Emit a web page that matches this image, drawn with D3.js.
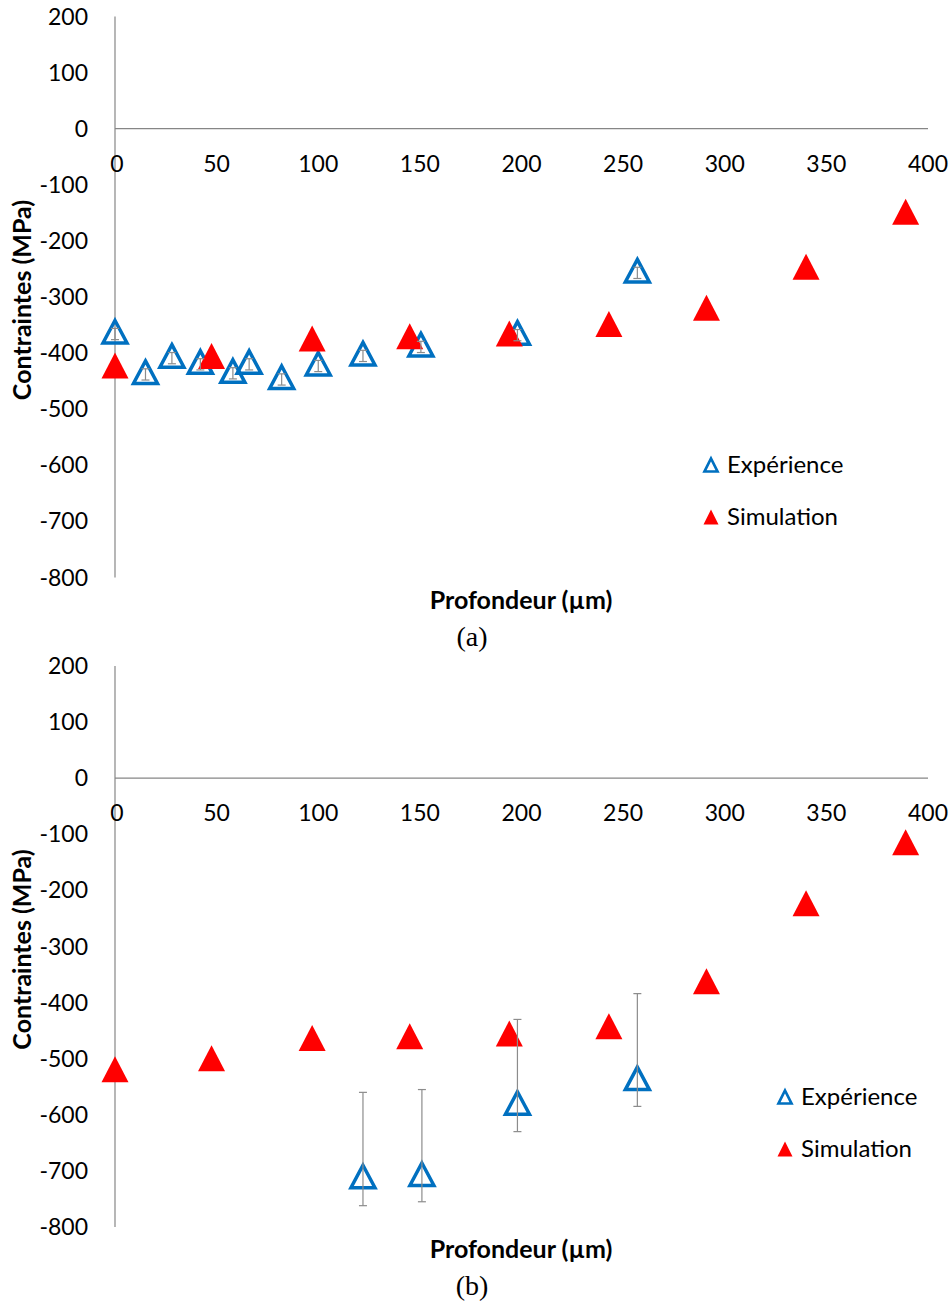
<!DOCTYPE html>
<html><head><meta charset="utf-8">
<script src="https://cdn.jsdelivr.net/npm/d3@7"></script>
<style>body{margin:0;background:#fff}svg{display:block}</style>
</head><body>
<script>
// ---- data ----
const xTicks = [0, 50, 100, 150, 200, 250, 300, 350, 400];
const yTicks = [200, 100, 0, -100, -200, -300, -400, -500, -600, -700, -800];

const depthExpA = [0, 15, 28, 42, 58, 66, 82, 100, 122, 150.5, 198, 257];
const stressExpA = [-362, -434, -405, -416, -432, -416, -443, -419, -401, -385, -364, -253];
const errPlusA = [6, 6, 6, 6, 6, 6, 6, 6, 6, 6, 6, 6];
const errMinusA = [14, 14, 14, 14, 14, 14, 14, 14, 14, 14, 14, 14];

const depthSim = [0, 47.5, 97, 145, 194, 243, 291, 340, 389];
const stressSimA = [-422, -405, -374, -370, -365, -348, -319, -246, -148];

const depthExpB = [122, 151, 198, 257];
const stressExpB = [-710, -706, -579, -535];
const errPlusB = [150, 151, 149, 151];
const errMinusB = [52, 49, 51, 50];
const stressSimB = [-519, -499, -463, -460, -455, -442, -362, -223, -114];

const panels = [
  {top: 16.5, bottom: 577.5, caption: "(a)", expX: depthExpA, expY: stressExpA, ep: errPlusA, em: errMinusA,
   simY: stressSimA, legend: [711, 465]},
  {top: 666, bottom: 1227, caption: "(b)", expX: depthExpB, expY: stressExpB, ep: errPlusB, em: errMinusB,
   simY: stressSimB, legend: [785, 1097]}
];

const W = 952, H = 1303;
const svg = d3.select("body").append("svg").attr("width", W).attr("height", H);
const font = "Lato, 'Open Sans', sans-serif";
const axisColor = "#868686";
const x = d3.scaleLinear().domain([0, 400]).range([115, 928]);

function tri(cx, cy, w, h) {
  return `M${cx},${cy - h/2}L${cx + w/2},${cy + h/2}L${cx - w/2},${cy + h/2}Z`;
}

panels.forEach((p, i) => {
  const y = d3.scaleLinear().domain([-800, 200]).range([p.bottom, p.top]);
  const g = svg.append("g");

  // axes lines
  g.append("line").attr("x1", x(0)).attr("x2", x(0)).attr("y1", y(200)).attr("y2", y(-800))
    .attr("stroke", axisColor).attr("stroke-width", 1.2);
  g.append("line").attr("x1", x(0)).attr("x2", x(400)).attr("y1", y(0)).attr("y2", y(0))
    .attr("stroke", axisColor).attr("stroke-width", 1.2);

  // y tick labels
  g.selectAll(".yt").data(yTicks).join("text")
    .attr("x", 88).attr("y", d => y(d)).attr("dy", "0.35em")
    .attr("text-anchor", "end").attr("font-family", font).attr("font-size", 23).attr("fill", "#000")
    .text(d => d);
  // x tick labels
  g.selectAll(".xt").data(xTicks).join("text")
    .attr("x", d => x(d) + (d === 0 ? 2 : 0)).attr("y", y(0) + 35).attr("dy", "0.35em")
    .attr("text-anchor", "middle").attr("font-family", font).attr("font-size", 23).attr("fill", "#000")
    .text(d => d);

  // axis titles
  g.append("text").attr("transform", `translate(31,${(p.top + p.bottom) / 2 + 3}) rotate(-90)`)
    .attr("text-anchor", "middle").attr("font-family", font).attr("font-weight", "bold")
    .attr("font-size", 25).text("Contraintes (MPa)");
  g.append("text").attr("x", 521).attr("y", p.bottom + 31)
    .attr("text-anchor", "middle").attr("font-family", font).attr("font-weight", "bold")
    .attr("font-size", 25).text("Profondeur (µm)");
  g.append("text").attr("x", 472).attr("y", p.bottom + 68)
    .attr("text-anchor", "middle").attr("font-family", "'Liberation Serif', 'DejaVu Serif', serif")
    .attr("font-size", 28).text(p.caption);

  // experiment markers
  g.selectAll(".exp").data(p.expX.map((d, k) => [d, p.expY[k]])).join("path")
    .attr("d", d => tri(x(d[0]), y(d[1]), 24, 22.5))
    .attr("fill", "none").attr("stroke", "#0070C0").attr("stroke-width", 3.5)
    .attr("stroke-linejoin", "miter");

  // simulation markers
  g.selectAll(".sim").data(depthSim.map((d, k) => [d, p.simY[k]])).join("path")
    .attr("d", d => tri(x(d[0]), y(d[1]), 27, 26))
    .attr("fill", "#FF0000");

  // error bars
  const eb = g.selectAll(".eb").data(p.expX.map((d, k) => ({x: d, y: p.expY[k], hi: p.expY[k] + p.ep[k], lo: p.expY[k] - p.em[k]})))
    .join("g").attr("stroke", "#8c8c8c").attr("stroke-width", 1.2);
  eb.append("line").attr("x1", d => x(d.x)).attr("x2", d => x(d.x)).attr("y1", d => y(d.hi)).attr("y2", d => y(d.lo));
  eb.append("line").attr("x1", d => x(d.x) - 4).attr("x2", d => x(d.x) + 4).attr("y1", d => y(d.hi)).attr("y2", d => y(d.hi));
  eb.append("line").attr("x1", d => x(d.x) - 4).attr("x2", d => x(d.x) + 4).attr("y1", d => y(d.lo)).attr("y2", d => y(d.lo));

  // legend
  const [lx, ly] = p.legend;
  g.append("path").attr("d", tri(lx, ly, 13, 13)).attr("fill", "none").attr("stroke", "#0070C0").attr("stroke-width", 2.7);
  g.append("text").attr("x", lx + 16).attr("y", ly).attr("dy", "0.35em").attr("font-family", font)
    .attr("font-size", 24).text("Expérience");
  g.append("path").attr("d", tri(lx, ly + 52, 15, 15)).attr("fill", "#FF0000");
  g.append("text").attr("x", lx + 16).attr("y", ly + 52).attr("dy", "0.35em").attr("font-family", font)
    .attr("font-size", 24).text("Simulation");
});
</script>
</body></html>
